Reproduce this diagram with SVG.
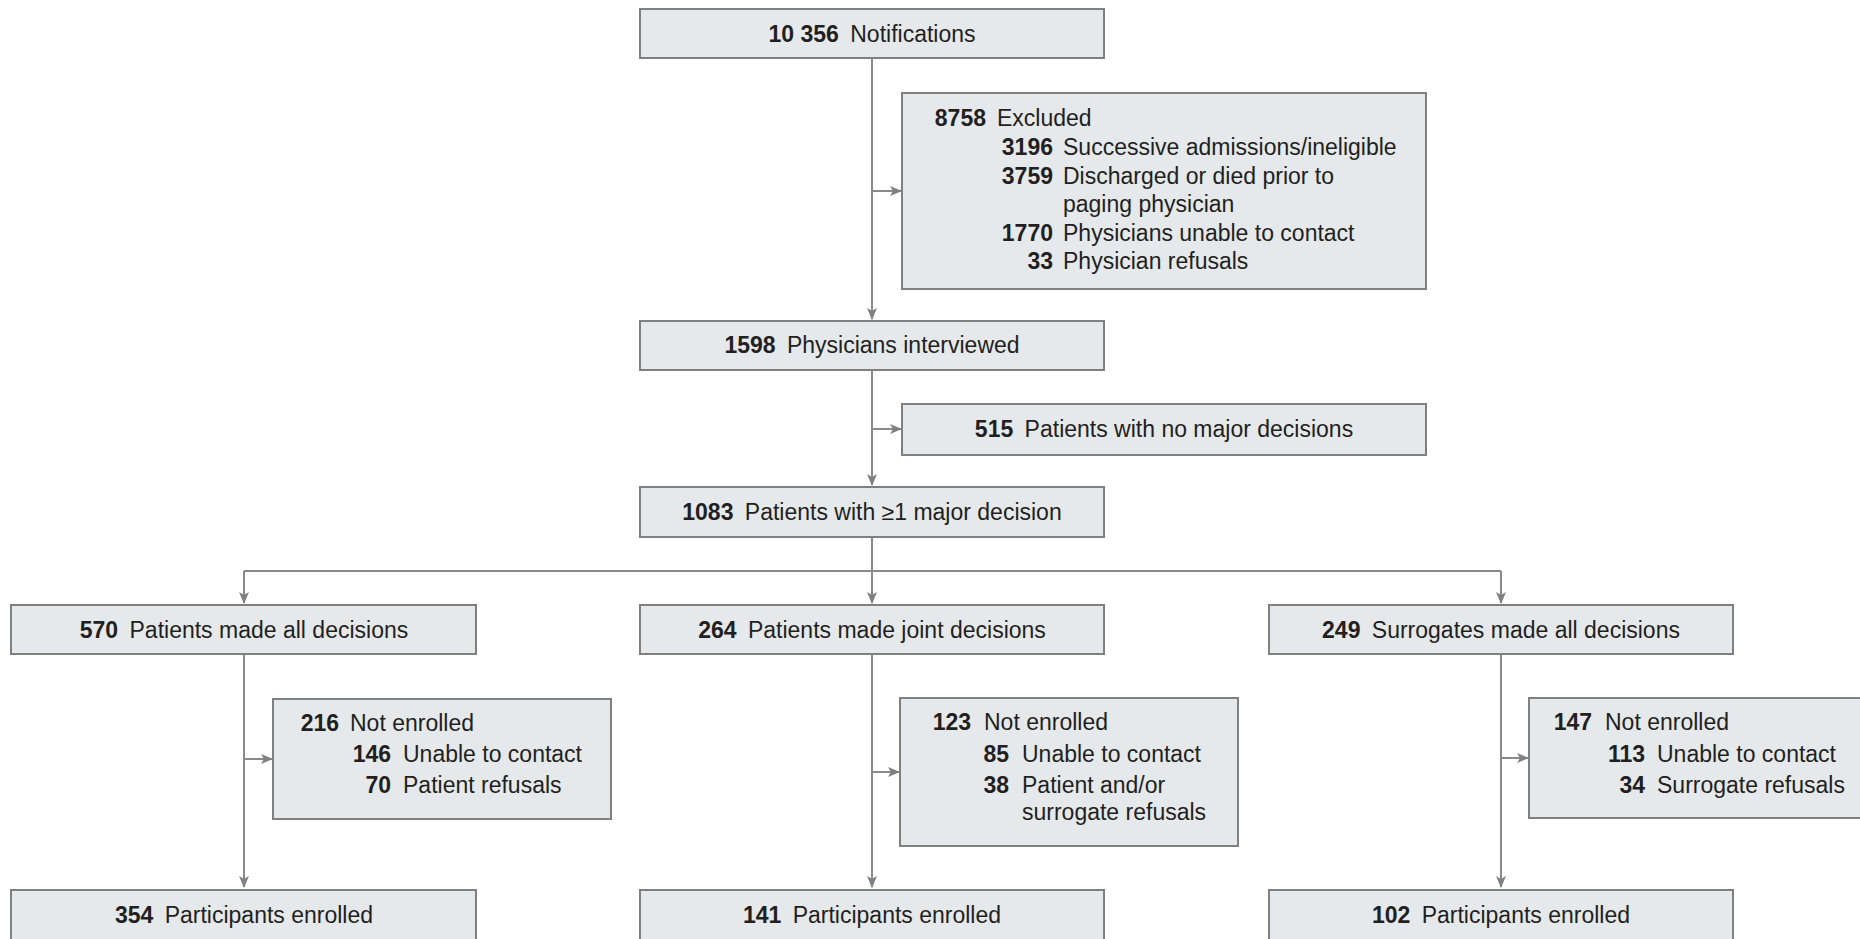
<svg xmlns="http://www.w3.org/2000/svg" width="1860" height="939" viewBox="0 0 1860 939">
<defs>
<marker id="ah" markerWidth="12" markerHeight="10" refX="11" refY="5" orient="auto" markerUnits="userSpaceOnUse">
<path d="M0,0 L12,5 L0,10 L3,5 Z" fill="#808080"/>
</marker>
<style>
.box{fill:#e5e9ec;stroke:#808080;stroke-width:2}
.ln{fill:none;stroke:#8a8a8a;stroke-width:2}
text{font-family:"Liberation Sans",Arial,sans-serif;font-size:23px;fill:#231f20}
.n{font-weight:bold}
.c{text-anchor:middle}
.r{text-anchor:end}
</style>
</defs>
<rect width="1860" height="939" fill="#ffffff"/>
<g id="connectors">
<path class="ln" d="M872,57 V319" marker-end="url(#ah)"/>
<path class="ln" d="M872,191 H901" marker-end="url(#ah)"/>
<path class="ln" d="M872,370 V485" marker-end="url(#ah)"/>
<path class="ln" d="M872,429 H901" marker-end="url(#ah)"/>
<path class="ln" d="M872,537 V571"/>
<path class="ln" d="M244,571 H1501"/>
<path class="ln" d="M244,571 V603" marker-end="url(#ah)"/>
<path class="ln" d="M872,571 V603" marker-end="url(#ah)"/>
<path class="ln" d="M1501,571 V603" marker-end="url(#ah)"/>
<path class="ln" d="M244,654 V887" marker-end="url(#ah)"/>
<path class="ln" d="M244,759 H272" marker-end="url(#ah)"/>
<path class="ln" d="M872,654 V887" marker-end="url(#ah)"/>
<path class="ln" d="M872,772 H899" marker-end="url(#ah)"/>
<path class="ln" d="M1501,654 V887" marker-end="url(#ah)"/>
<path class="ln" d="M1501,758 H1528" marker-end="url(#ah)"/>
</g>
<g id="n-notifications">
<rect class="box" x="640" y="9" width="464" height="49"/>
<text x="872" y="42" class="c"><tspan class="n">10 356</tspan><tspan dx="5"> Notifications</tspan></text>
</g>
<g id="n-excluded">
<rect class="box" x="902" y="93" width="524" height="196"/>
<text x="986" y="126" class="r n">8758</text><text x="997" y="126">Excluded</text>
<text x="1053" y="155" class="r n">3196</text><text x="1063" y="155">Successive admissions/ineligible</text>
<text x="1053" y="184" class="r n">3759</text><text x="1063" y="184">Discharged or died prior to</text>
<text x="1063" y="212">paging physician</text>
<text x="1053" y="241" class="r n">1770</text><text x="1063" y="241">Physicians unable to contact</text>
<text x="1053" y="269" class="r n">33</text><text x="1063" y="269">Physician refusals</text>
</g>
<g id="n-interviewed">
<rect class="box" x="640" y="321" width="464" height="49"/>
<text x="872" y="353" class="c"><tspan class="n">1598</tspan><tspan dx="5"> Physicians interviewed</tspan></text>
</g>
<g id="n-nomajor">
<rect class="box" x="902" y="404" width="524" height="51"/>
<text x="1164" y="437" class="c"><tspan class="n">515</tspan><tspan dx="5"> Patients with no major decisions</tspan></text>
</g>
<g id="n-major">
<rect class="box" x="640" y="487" width="464" height="50"/>
<text x="872" y="520" class="c"><tspan class="n">1083</tspan><tspan dx="5"> Patients with ≥1 major decision</tspan></text>
</g>
<g id="n-patients-all">
<rect class="box" x="11" y="605" width="465" height="49"/>
<text x="244" y="638" class="c"><tspan class="n">570</tspan><tspan dx="5"> Patients made all decisions</tspan></text>
</g>
<g id="n-joint">
<rect class="box" x="640" y="605" width="464" height="49"/>
<text x="872" y="638" class="c"><tspan class="n">264</tspan><tspan dx="5"> Patients made joint decisions</tspan></text>
</g>
<g id="n-surrogates">
<rect class="box" x="1269" y="605" width="464" height="49"/>
<text x="1501" y="638" class="c"><tspan class="n">249</tspan><tspan dx="5"> Surrogates made all decisions</tspan></text>
</g>
<g id="n-ne-left">
<rect class="box" x="273" y="699" width="338" height="120"/>
<text x="339" y="731" class="r n">216</text><text x="350" y="731">Not enrolled</text>
<text x="391" y="762" class="r n">146</text><text x="403" y="762">Unable to contact</text>
<text x="391" y="793" class="r n">70</text><text x="403" y="793">Patient refusals</text>
</g>
<g id="n-ne-mid">
<rect class="box" x="900" y="698" width="338" height="148"/>
<text x="971" y="730" class="r n">123</text><text x="984" y="730">Not enrolled</text>
<text x="1009" y="762" class="r n">85</text><text x="1022" y="762">Unable to contact</text>
<text x="1009" y="793" class="r n">38</text><text x="1022" y="793">Patient and/or</text>
<text x="1022" y="820">surrogate refusals</text>
</g>
<g id="n-ne-right">
<rect class="box" x="1529" y="698" width="340" height="120"/>
<text x="1592" y="730" class="r n">147</text><text x="1605" y="730">Not enrolled</text>
<text x="1645" y="762" class="r n">113</text><text x="1657" y="762">Unable to contact</text>
<text x="1645" y="793" class="r n">34</text><text x="1657" y="793">Surrogate refusals</text>
</g>
<g id="n-enrolled-left">
<rect class="box" x="11" y="890" width="465" height="60"/>
<text x="244" y="923" class="c"><tspan class="n">354</tspan><tspan dx="5"> Participants enrolled</tspan></text>
</g>
<g id="n-enrolled-mid">
<rect class="box" x="640" y="890" width="464" height="60"/>
<text x="872" y="923" class="c"><tspan class="n">141</tspan><tspan dx="5"> Participants enrolled</tspan></text>
</g>
<g id="n-enrolled-right">
<rect class="box" x="1269" y="890" width="464" height="60"/>
<text x="1501" y="923" class="c"><tspan class="n">102</tspan><tspan dx="5"> Participants enrolled</tspan></text>
</g>
</svg>
